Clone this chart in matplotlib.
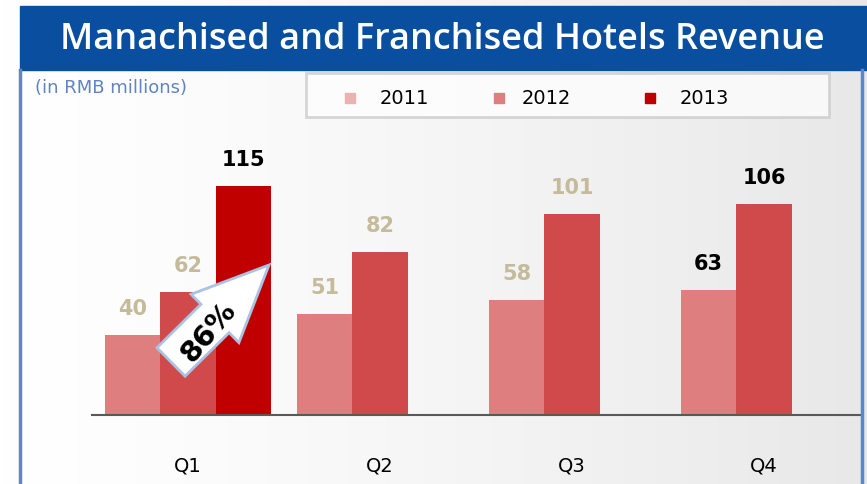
import numpy as np
import matplotlib
matplotlib.use("Agg")
import matplotlib.pyplot as plt
from matplotlib.patches import Rectangle, FancyArrow

# ---- data ----
quarters = ["Q1", "Q2", "Q3", "Q4"]
years = ["2011", "2012", "2013"]
rev_2011 = [40, 51, 58, 63]
rev_2012 = [62, 82, 101, 106]
rev_2013 = [115, None, None, None]
growth_label = "86%"

title = "Manachised and Franchised Hotels Revenue"
unit_label = "(in RMB millions)"

bar_colors = ["#DF7E7E", "#D04A4C", "#C00000"]
legend_colors = ["#EBB2B2", "#DE7E7E", "#C00000"]
label_colors = {
    "2011": ["#C5BB9A", "#C5BB9A", "#C5BB9A", "#000000"],
    "2012": ["#C5BB9A", "#C5BB9A", "#C5BB9A", "#000000"],
    "2013": ["#000000", "#000000", "#000000", "#000000"],
}

W, H = 867, 484
fig = plt.figure(figsize=(W / 100, H / 100), dpi=100)

# background gradient
bg = fig.add_axes([0, 0, 1, 1])
t = np.linspace(0, 1, 256)
grad = 1.0 - 0.09 * t ** 1.3
img = np.tile(grad, (64, 1))
bg.imshow(np.dstack([img, img, img]), aspect="auto", extent=[0, 1, 0, 1])
bg.set_xlim(0, 1); bg.set_ylim(0, 1)
bg.axis("off")

# main chart axes (pixel layout)
x0, x1 = 92, 860
ybase, ytop = 415, 140
ax = fig.add_axes([x0 / W, (H - ybase) / H, (x1 - x0) / W, (ybase - ytop) / H])
ax.patch.set_alpha(0)
ymax = (ybase - ytop) / 1.99
ax.set_ylim(0, ymax)
ax.set_xlim(-0.5, 3.5)

bw = 0.288
series = [rev_2011, rev_2012, rev_2013]
xs = np.arange(len(quarters))
for i, (yr, vals) in enumerate(zip(years, series)):
    offs = (i - 1) * bw
    for j, v in enumerate(vals):
        if v is None:
            continue
        ax.bar(xs[j] + offs, v, width=bw, color=bar_colors[i], linewidth=0, zorder=2)
        ax.text(xs[j] + offs, v + 8, str(v), ha="center", va="bottom",
                fontsize=15, fontweight="bold", color=label_colors[yr][j], zorder=3)

ax.set_xticks(xs)
ax.set_xticklabels(quarters, fontsize=14)
ax.tick_params(axis="x", length=0, pad=30)
ax.set_yticks([])
for s in ["top", "right", "left"]:
    ax.spines[s].set_visible(False)
ax.spines["bottom"].set_color("#595959")
ax.spines["bottom"].set_linewidth(1.5)

# overlay in pixel coordinates
ov = fig.add_axes([0, 0, 1, 1])
ov.set_xlim(0, W); ov.set_ylim(H, 0)
ov.axis("off")
ov.patch.set_alpha(0)

# title banner
ov.add_patch(Rectangle((20, 6), W - 20, 64, color="#0A4F9F", zorder=1))
ov.text(442, 40, title, color="white", fontsize=26, fontweight="semibold",
        ha="center", va="center", fontfamily="Open Sans")
# border lines
ov.plot([20, 20], [70, H], color="#5B87C6", lw=2.5)
ov.plot([862, 862], [70, H], color="#5B87C6", lw=2.5)

ov.text(35, 88, unit_label, color="#5F84C2", fontsize=13, va="center", ha="left")

# legend box
ov.add_patch(Rectangle((306, 73), 523, 44, facecolor="white", edgecolor="#C6C6C6",
                       lw=2, alpha=0.7, zorder=2))
leg_x = [[350, 380], [499, 522], [650, 680]]
for (mx, tx), c, yr in zip(leg_x, legend_colors, years):
    ov.add_patch(Rectangle((mx - 5, 93), 10, 10, color=c, zorder=3))
    ov.text(tx, 98, yr, fontsize=14, va="center", ha="left", zorder=3)

# growth arrow
ov.add_patch(FancyArrow(171, 362, 98, -97, width=40, head_width=68, head_length=76,
                        length_includes_head=True, facecolor="white",
                        edgecolor="#A9C3E2", lw=2, zorder=5))
ov.text(208, 332, growth_label, rotation=50, fontsize=21, fontweight="bold",
        ha="center", va="center", zorder=6)

fig.savefig("out.png", dpi=100)
